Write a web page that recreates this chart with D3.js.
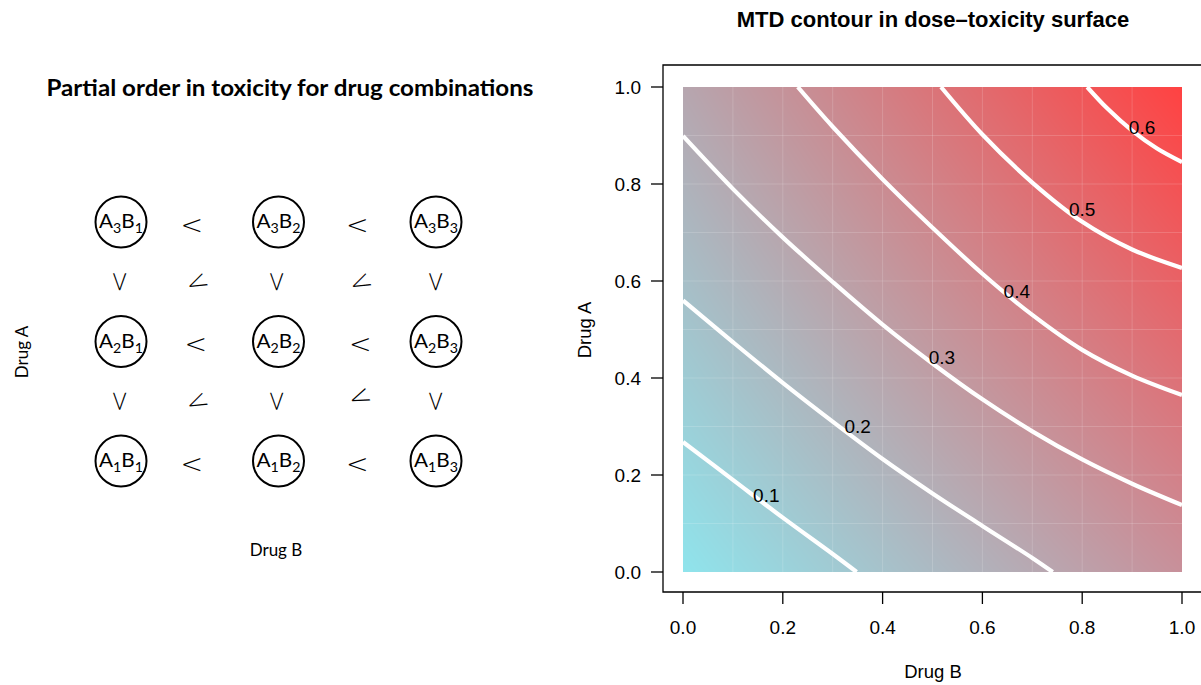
<!DOCTYPE html>
<html>
<head>
<meta charset="utf-8">
<script src="https://cdn.jsdelivr.net/npm/d3@7"></script>
<style>
  html, body { margin: 0; padding: 0; background: #ffffff; }
  svg { display: block; }
</style>
</head>
<body>
<svg id="chart" width="1201" height="685"></svg>
<script>
// ---------------- Left panel: partial order of dose combinations ----------------
const doseA = ["3", "2", "1"];          // rows, top to bottom
const doseB = ["1", "2", "3"];          // columns, left to right

// ---------------- Right panel: dose–toxicity surface ----------------
const axisTicks = [0.0, 0.2, 0.4, 0.6, 0.8, 1.0];
const gridSteps = [0.1, 0.2, 0.3, 0.4, 0.5, 0.6, 0.7, 0.8, 0.9];
const contourLevels = ["0.1", "0.2", "0.3", "0.4", "0.5", "0.6"];

// contour lines as (Drug B, Drug A) points
const contour01 = [[0, 0.268], [0.1, 0.19], [0.2, 0.112], [0.3, 0.037], [0.348, 0]];
const contour02 = [[0, 0.56], [0.1, 0.474], [0.2, 0.39], [0.3, 0.31], [0.4, 0.233],
                   [0.5, 0.162], [0.6, 0.095], [0.7, 0.029], [0.741, 0]];
const contour03 = [[0, 0.899], [0.1, 0.79], [0.2, 0.69], [0.3, 0.598], [0.4, 0.51],
                   [0.5, 0.43], [0.6, 0.356], [0.7, 0.29], [0.8, 0.232], [0.9, 0.182], [1, 0.138]];
const contour04 = [[0.23, 1], [0.3, 0.918], [0.4, 0.81], [0.5, 0.71], [0.6, 0.615],
                   [0.7, 0.53], [0.8, 0.458], [0.9, 0.405], [1, 0.365]];
const contour05 = [[0.517, 1], [0.6, 0.902], [0.7, 0.803], [0.8, 0.722], [0.9, 0.665], [1, 0.627]];
const contour06 = [[0.81, 1], [0.85, 0.956], [0.9, 0.91], [0.95, 0.873], [1, 0.845]];
const contourLines = [contour01, contour02, contour03, contour04, contour05, contour06];

// label anchor points (Drug B, Drug A)
const labelB = [0.167, 0.35, 0.519, 0.669, 0.8, 0.92];
const labelA = [0.159, 0.30, 0.443, 0.579, 0.748, 0.918];

// surface colours at the four corners: (B,A) = (0,0), (1,0), (0,1), (1,1)
const cornerColors = ["#8fe4ec", "#c8909a", "#b6a6af", "#ff4242"];

const svg = d3.select("#chart");

// ================= LEFT PANEL =================
const L = svg.append("g").attr("class", "left-panel");
const leftFont = "Lato, 'Open Sans', sans-serif";

L.append("text")
  .attr("x", 290).attr("y", 96)
  .attr("text-anchor", "middle")
  .attr("font-family", leftFont).attr("font-weight", "bold")
  .attr("font-size", 23)
  .attr("textLength", 487).attr("lengthAdjust", "spacingAndGlyphs")
  .text("Partial order in toxicity for drug combinations");

const colX = d3.scalePoint().domain(doseB).range([121, 436]);
const rowY = d3.scalePoint().domain(doseA).range([222, 461]);

// nodes
doseA.forEach(a => {
  doseB.forEach(b => {
    const cx = colX(b), cy = rowY(a);
    L.append("circle")
      .attr("cx", cx).attr("cy", cy).attr("r", 25.5)
      .attr("fill", "none").attr("stroke", "#000").attr("stroke-width", 2);
    const t = L.append("text")
      .attr("x", cx).attr("y", cy + 6)
      .attr("text-anchor", "middle")
      .attr("font-family", leftFont).attr("font-size", 19)
      .attr("textLength", 44).attr("lengthAdjust", "spacingAndGlyphs");
    t.append("tspan").text("A");
    t.append("tspan").attr("font-size", 13).attr("dy", 5).text(a);
    t.append("tspan").attr("dy", -5).text("B");
    t.append("tspan").attr("font-size", 13).attr("dy", 5).text(b);
  });
});

// order relations drawn with a "<" glyph at different rotations
function relation(x, y, angle) {
  L.append("text")
    .attr("transform", `translate(${x},${y}) rotate(${angle})`)
    .attr("text-anchor", "middle")
    .attr("dy", "0.36em")
    .attr("font-family", "'DejaVu Sans', sans-serif").attr("font-size", 27)
    .attr("font-weight", 300)
    .text("<");
}
const midX = [(colX("1") + colX("2")) / 2, (colX("2") + colX("3")) / 2];
const midY = [(rowY("3") + rowY("2")) / 2, (rowY("2") + rowY("1")) / 2];
// horizontal: B increases
doseA.forEach(a => {
  relation(midX[0] - 8 + (a === "2" ? 4 : 0), rowY(a) + 2, 0);
  relation(midX[1] - 0 + (a === "2" ? 3 : 0), rowY(a) + 2, 0);
});
// vertical: A increases upward
midY.forEach(my => {
  doseB.forEach(b => relation(colX(b) - 3 + (b === "3" ? 1 : 0), my, -90));
});
// diagonal
relation(midX[0] - 3, midY[0], -25);
relation(midX[1] + 3, midY[0], -25);
relation(midX[0] - 3, midY[1], -25);
relation(midX[1] + 2, midY[1] - 5, -22);

L.append("text")
  .attr("x", 276).attr("y", 556)
  .attr("text-anchor", "middle")
  .attr("font-family", leftFont).attr("font-size", 17)
  .text("Drug B");
L.append("text")
  .attr("transform", "translate(28,352) rotate(-90)")
  .attr("text-anchor", "middle")
  .attr("font-family", leftFont).attr("font-size", 17)
  .text("Drug A");

// ================= RIGHT PANEL =================
const R = svg.append("g").attr("class", "right-panel");
const rightFont = "'Liberation Sans', Arial, Helvetica, sans-serif";

const x = d3.scaleLinear().domain([0, 1]).range([683, 1182]);
const y = d3.scaleLinear().domain([0, 1]).range([572, 87]);

// colour surface rendered into an image
const pw = Math.round(x(1) - x(0)), ph = Math.round(y(0) - y(1));
const canvas = document.createElement("canvas");
canvas.width = pw; canvas.height = ph;
const ctx = canvas.getContext("2d");
const img = ctx.createImageData(pw, ph);
const c = cornerColors.map(s => d3.rgb(s));
for (let j = 0; j < ph; j++) {
  const v = 1 - j / (ph - 1);
  for (let i = 0; i < pw; i++) {
    const u = i / (pw - 1);
    const w00 = (1 - u) * (1 - v), w10 = u * (1 - v), w01 = (1 - u) * v, w11 = u * v;
    const k = (j * pw + i) * 4;
    img.data[k]     = w00 * c[0].r + w10 * c[1].r + w01 * c[2].r + w11 * c[3].r;
    img.data[k + 1] = w00 * c[0].g + w10 * c[1].g + w01 * c[2].g + w11 * c[3].g;
    img.data[k + 2] = w00 * c[0].b + w10 * c[1].b + w01 * c[2].b + w11 * c[3].b;
    img.data[k + 3] = 255;
  }
}
ctx.putImageData(img, 0, 0);
R.append("image")
  .attr("x", x(0)).attr("y", y(1))
  .attr("width", pw).attr("height", ph)
  .attr("preserveAspectRatio", "none")
  .attr("href", canvas.toDataURL());

// faint cell seams
R.append("g").selectAll("line.v").data(gridSteps).join("line")
  .attr("x1", d => x(d)).attr("x2", d => x(d))
  .attr("y1", y(0)).attr("y2", y(1))
  .attr("stroke", "#ffffff").attr("stroke-opacity", 0.16).attr("stroke-width", 1);
R.append("g").selectAll("line.h").data(gridSteps).join("line")
  .attr("y1", d => y(d)).attr("y2", d => y(d))
  .attr("x1", x(0)).attr("x2", x(1))
  .attr("stroke", "#ffffff").attr("stroke-opacity", 0.16).attr("stroke-width", 1);

// clip contour lines to the surface
svg.append("defs").append("clipPath").attr("id", "plotClip")
  .append("rect").attr("x", x(0)).attr("y", y(1))
  .attr("width", x(1) - x(0)).attr("height", y(0) - y(1));

const line = d3.line().x(d => x(d[0])).y(d => y(d[1])).curve(d3.curveCatmullRom.alpha(0.5));
R.append("g").attr("clip-path", "url(#plotClip)")
  .selectAll("path").data(contourLines).join("path")
  .attr("d", line)
  .attr("fill", "none").attr("stroke", "#ffffff")
  .attr("stroke-width", 4.2).attr("stroke-linecap", "butt");

// contour labels
R.append("g").selectAll("text").data(contourLevels).join("text")
  .attr("x", (d, i) => x(labelB[i]))
  .attr("y", (d, i) => y(labelA[i]))
  .attr("dy", "0.36em")
  .attr("text-anchor", "middle")
  .attr("font-family", rightFont).attr("font-size", 19)
  .attr("fill", "#000")
  .text(d => d);

// box
R.append("path")
  .attr("d", `M1210,65 H663 V592 H1210`)
  .attr("fill", "none").attr("stroke", "#000").attr("stroke-width", 1.3);

// x axis ticks & labels
R.append("g").selectAll("line").data(axisTicks).join("line")
  .attr("x1", d => x(d)).attr("x2", d => x(d))
  .attr("y1", 592).attr("y2", 604)
  .attr("stroke", "#000").attr("stroke-width", 1.3);
R.append("g").selectAll("text").data(axisTicks).join("text")
  .attr("x", d => x(d)).attr("y", 634)
  .attr("text-anchor", "middle")
  .attr("font-family", rightFont).attr("font-size", 19)
  .text(d => d.toFixed(1));

// y axis ticks & labels
R.append("g").selectAll("line").data(axisTicks).join("line")
  .attr("y1", d => y(d)).attr("y2", d => y(d))
  .attr("x1", 651).attr("x2", 663)
  .attr("stroke", "#000").attr("stroke-width", 1.3);
R.append("g").selectAll("text").data(axisTicks).join("text")
  .attr("x", 641).attr("y", d => y(d))
  .attr("dy", "0.36em")
  .attr("text-anchor", "end")
  .attr("font-family", rightFont).attr("font-size", 19)
  .text(d => d.toFixed(1));

// titles
R.append("text")
  .attr("x", 933).attr("y", 27)
  .attr("text-anchor", "middle")
  .attr("font-family", rightFont).attr("font-weight", "bold").attr("font-size", 22)
  .text("MTD contour in dose\u2013toxicity surface");
R.append("text")
  .attr("x", 933).attr("y", 678)
  .attr("text-anchor", "middle")
  .attr("font-family", rightFont).attr("font-size", 18.5)
  .text("Drug B");
R.append("text")
  .attr("transform", "translate(591,330) rotate(-90)")
  .attr("text-anchor", "middle")
  .attr("font-family", rightFont).attr("font-size", 18.5)
  .text("Drug A");
</script>
</body>
</html>
